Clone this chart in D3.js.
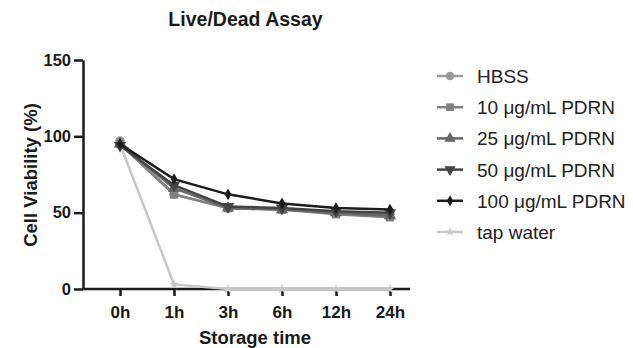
<!DOCTYPE html>
<html>
<head>
<meta charset="utf-8">
<script src="https://cdn.jsdelivr.net/npm/d3@7"></script>
<style>
  body { margin: 0; background: #fff; }
  text { font-family: "Liberation Sans", Arial, sans-serif; }
</style>
</head>
<body>
<div id="chart"></div>
<script>
const categories = ["0h", "1h", "3h", "6h", "12h", "24h"];
const yTicks = [0, 50, 100, 150];

const seriesNames = ["HBSS", "10 μg/mL PDRN", "25 μg/mL PDRN", "50 μg/mL PDRN", "100 μg/mL PDRN", "tap water"];
const hbss = [97, 62, 53, 52, 50, 49];
const pdrn10 = [95, 62, 53, 52, 49, 47];
const pdrn25 = [95, 66, 53, 52, 50, 48];
const pdrn50 = [94, 68, 54, 53, 51, 50];
const pdrn100 = [95, 72, 62, 56, 53, 52];
const tapWater = [95, 3, 0, 0, 0, 0];

const colors = ["#9a9a9a", "#808080", "#666666", "#444444", "#1c1c1c", "#c8c8c8"];
const symbols = [d3.symbolCircle, d3.symbolSquare, d3.symbolTriangle, d3.symbolTriangle, d3.symbolDiamond, d3.symbolStar];
const symSizes = [70, 70, 65, 65, 40, 30];
const allSeries = [hbss, pdrn10, pdrn25, pdrn50, pdrn100, tapWater];

const W = 633, H = 348;
const svg = d3.select("#chart").append("svg")
  .attr("width", W).attr("height", H);

const x = d3.scalePoint().domain(categories).range([120, 390]);
const y = d3.scaleLinear().domain([0, 150]).range([289, 60]);

// axes
const yAxis = svg.append("g")
  .attr("transform", "translate(83,0)")
  .call(d3.axisLeft(y).tickValues(yTicks).tickSize(9).tickPadding(3).tickSizeOuter(0));
yAxis.select(".domain").attr("stroke", "#1a1a1a").attr("stroke-width", 2.5);
yAxis.selectAll(".tick line").attr("stroke", "#1a1a1a").attr("stroke-width", 2.5);
yAxis.selectAll(".tick text")
  .attr("font-size", 16.5).attr("font-weight", "bold").attr("fill", "#1a1a1a");

const xAxis = svg.append("g")
  .attr("transform", "translate(0,289)")
  .call(d3.axisBottom(x).tickSize(7).tickPadding(10).tickSizeOuter(0));
xAxis.select(".domain").attr("d", "M82,0H410").attr("stroke", "#1a1a1a").attr("stroke-width", 2.5);
xAxis.selectAll(".tick line").attr("stroke", "#1a1a1a").attr("stroke-width", 2.5);
xAxis.selectAll(".tick text")
  .attr("font-size", 17).attr("font-weight", "bold").attr("fill", "#1a1a1a");

// lines, drawn back to front: tap water first
const line = d3.line().x((d, i) => x(categories[i])).y(d => y(d));
const order = [5, 0, 1, 2, 3, 4];
order.forEach(k => {
  const g = svg.append("g");
  g.append("path")
    .attr("d", line(allSeries[k]))
    .attr("fill", "none")
    .attr("stroke", colors[k])
    .attr("stroke-width", 2.5);
  const sym = d3.symbol().type(symbols[k]).size(symSizes[k]);
  g.selectAll("path.pt").data(allSeries[k]).enter().append("path")
    .attr("class", "pt")
    .attr("d", sym)
    .attr("transform", (d, i) => `translate(${x(categories[i])},${y(d)})${k === 3 ? " rotate(180)" : ""}`)
    .attr("fill", colors[k]);
});

// title and axis labels
svg.append("text")
  .attr("x", 245.5).attr("y", 26)
  .attr("text-anchor", "middle")
  .attr("font-size", 19.5).attr("font-weight", "bold").attr("fill", "#1a1a1a")
  .text("Live/Dead Assay");

svg.append("text")
  .attr("transform", "translate(37,175) rotate(-90)")
  .attr("text-anchor", "middle")
  .attr("font-size", 18.5).attr("font-weight", "bold").attr("fill", "#1a1a1a")
  .text("Cell Viability (%)");

svg.append("text")
  .attr("x", 255).attr("y", 344)
  .attr("text-anchor", "middle")
  .attr("font-size", 18.5).attr("font-weight", "bold").attr("fill", "#1a1a1a")
  .text("Storage time");

// legend
const legend = svg.append("g");
seriesNames.forEach((name, k) => {
  const ly = 76 + k * 31.2;
  legend.append("line")
    .attr("x1", 437).attr("x2", 463).attr("y1", ly).attr("y2", ly)
    .attr("stroke", colors[k]).attr("stroke-width", 2.5);
  legend.append("path")
    .attr("d", d3.symbol().type(symbols[k]).size(symSizes[k] * 0.85)())
    .attr("transform", `translate(450,${ly})${k === 3 ? " rotate(180)" : ""}`)
    .attr("fill", colors[k]);
  legend.append("text")
    .attr("x", 477).attr("y", ly + 7)
    .attr("font-size", 19).attr("fill", "#222")
    .text(name);
});
</script>
</body>
</html>
